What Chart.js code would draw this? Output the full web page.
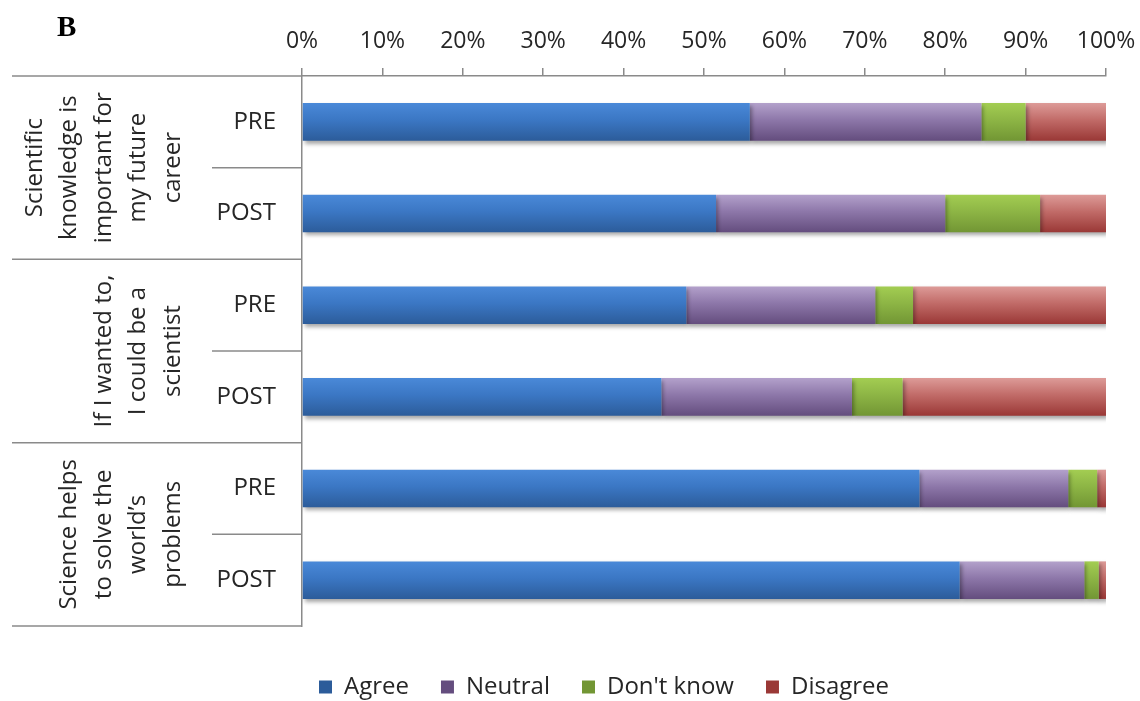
<!DOCTYPE html>
<html>
<head>
<meta charset="utf-8">
<script src="https://cdn.jsdelivr.net/npm/chart.js@4/dist/chart.umd.min.js"></script>
<style>
    body { margin: 0; background: #fff; }
    #wrap { width: 1140px; height: 701px; }
</style>
</head>
<body>
<div id="wrap"><canvas id="chart"></canvas></div>
<script>
// rows, top to bottom
const rowLabels = ["PRE", "POST", "PRE", "POST", "PRE", "POST"];
// each statement covers two rows
const groupLabels = [
    ["Scientific", "knowledge is", "important for", "my future", "career"],
    ["If I wanted to,", "I could be a", "scientist"],
    ["Science helps", "to solve the", "world\u2019s", "problems"]
];
const groupRows = [[0, 1], [2, 3], [4, 5]];

// percent of answers
const agree     = [55.7, 51.5, 47.8, 44.7, 76.8, 81.8];
const neutral   = [28.8, 28.5, 23.5, 23.7, 18.5, 15.5];
const dontKnow  = [5.5, 11.8, 4.7, 6.3, 3.6, 1.8];
const disagree  = [10.0, 8.2, 24.0, 25.3, 1.1, 0.9];

const xTicks = [0, 10, 20, 30, 40, 50, 60, 70, 80, 90, 100];

const lineColor = "#8a8a8a";
const textColor = "#262626";
const fontFamily = "'Open Sans', 'Noto Sans', sans-serif";
const barPct = 0.41;
const padLeft = 102;

// top, middle, bottom of the excel style gradient
const shades = {
    agree:    ["#4a89d8", "#3b77c4", "#2c5c9a"],
    neutral:  ["#b3a1cb", "#8d77a9", "#644d7e"],
    dontKnow: ["#a3cd52", "#8db545", "#729634"],
    disagree: ["#dd9b98", "#c16b68", "#9a3836"]
};

function gradientFill(key) {
    return (ctx) => {
        const c = shades[key];
        const chart = ctx.chart;
        const y = chart.scales.y;
        if (!chart.chartArea || !y || ctx.dataIndex === undefined) return c[1];
        const mid = y.getPixelForValue(ctx.dataIndex);
        const half = (y.height / rowLabels.length) * barPct / 2;
        const g = chart.ctx.createLinearGradient(0, mid - half, 0, mid + half);
        g.addColorStop(0, c[0]);
        g.addColorStop(0.45, c[1]);
        g.addColorStop(1, c[2]);
        return g;
    };
}

// table lines, statement labels and the panel letter
const tablePlugin = {
    id: 'table',
    beforeDatasetsDraw(chart) {
        const ctx = chart.ctx;
        ctx.save();
        ctx.shadowColor = "rgba(0,0,0,0.35)";
        ctx.shadowBlur = 4;
        ctx.shadowOffsetX = 2;
        ctx.shadowOffsetY = 3;
    },
    afterDatasetsDraw(chart) {
        chart.ctx.restore();
    },
    afterDraw(chart) {
        const ctx = chart.ctx;
        const area = chart.chartArea;
        const y = chart.scales.y;
        const step = y.height / rowLabels.length;
        const leftEdge = 12;
        const innerEdge = 212;

        ctx.save();
        ctx.strokeStyle = lineColor;
        ctx.lineWidth = 1.5;
        ctx.beginPath();
        ctx.moveTo(leftEdge, area.top);
        ctx.lineTo(area.left, area.top);
        ctx.moveTo(leftEdge, area.bottom);
        ctx.lineTo(area.left, area.bottom);
        groupRows.forEach((rows, gi) => {
            for (let k = 1; k < rows.length; k++) {
                const yy = y.getPixelForValue(rows[k]) - step / 2;
                ctx.moveTo(innerEdge, yy);
                ctx.lineTo(area.left, yy);
            }
            if (gi > 0) {
                const yy = y.getPixelForValue(rows[0]) - step / 2;
                ctx.moveTo(leftEdge, yy);
                ctx.lineTo(area.left, yy);
            }
        });
        ctx.stroke();

        ctx.fillStyle = textColor;
        ctx.font = "24px " + fontFamily;
        ctx.textAlign = "center";
        ctx.textBaseline = "middle";
        const lh = 34.5;
        const lastX = 173;
        groupLabels.forEach((lines, gi) => {
            const rows = groupRows[gi];
            const cy = (y.getPixelForValue(rows[0]) + y.getPixelForValue(rows[rows.length - 1])) / 2;
            ctx.save();
            ctx.translate(lastX, cy);
            ctx.rotate(-Math.PI / 2);
            lines.forEach((line, i) => {
                ctx.fillText(line, 0, (i - (lines.length - 1)) * lh);
            });
            ctx.restore();
        });

        ctx.fillStyle = "#000";
        ctx.font = "bold 29px 'Liberation Serif', 'DejaVu Serif', serif";
        ctx.textAlign = "left";
        ctx.textBaseline = "alphabetic";
        ctx.fillText("B", 57, 36);
        ctx.restore();
    }
};

// keep the legend from eating the space it needs below the plot
const legendHeight = {
    id: 'legendHeight',
    beforeInit(chart) {
        const fit = chart.legend.fit;
        chart.legend.fit = function () {
            fit.call(this);
            this.height = 75;
        };
    }
};

const ctx = document.getElementById('chart').getContext('2d');
const myChart = new Chart(ctx, {
    type: 'bar',
    data: {
        labels: rowLabels,
        datasets: [
            { label: "Agree", data: agree, backgroundColor: gradientFill('agree') },
            { label: "Neutral", data: neutral, backgroundColor: gradientFill('neutral') },
            { label: "Don't know", data: dontKnow, backgroundColor: gradientFill('dontKnow') },
            { label: "Disagree", data: disagree, backgroundColor: gradientFill('disagree') }
        ]
    },
    options: {
        indexAxis: 'y',
        responsive: true,
        maintainAspectRatio: false,
        animation: false,
        datasets: {
            bar: { barPercentage: barPct, categoryPercentage: 1, borderWidth: 0 }
        },
        layout: {
            padding: { left: padLeft, right: 34, top: 0, bottom: 0 }
        },
        scales: {
            x: {
                position: 'top',
                stacked: true,
                min: 0,
                max: 100,
                afterBuildTicks(scale) {
                    scale.ticks = xTicks.map(v => ({ value: v }));
                },
                afterFit(scale) {
                    scale.height = 76;
                    scale.paddingLeft = 0;
                    scale.paddingRight = 0;
                },
                grid: {
                    drawOnChartArea: false,
                    drawTicks: true,
                    tickLength: 8,
                    color: lineColor,
                    lineWidth: 1.5
                },
                border: { color: lineColor, width: 1.5 },
                ticks: {
                    padding: 13,
                    color: textColor,
                    font: { family: fontFamily, size: 23 },
                    maxRotation: 0,
                    callback: v => v + '%'
                }
            },
            y: {
                stacked: true,
                afterFit(scale) { scale.width = 302 - padLeft; },
                grid: { display: false },
                border: { color: lineColor, width: 1.5 },
                ticks: {
                    padding: 18,
                    color: textColor,
                    font: { family: fontFamily, size: 24 }
                }
            }
        },
        plugins: {
            tooltip: { enabled: false },
            legend: {
                position: 'bottom',
                title: {
                    display: true,
                    text: ' ',
                    padding: 0,
                    font: { size: 10, lineHeight: 1.7 }
                },
                labels: {
                    boxWidth: 13,
                    boxHeight: 13,
                    padding: 32,
                    color: textColor,
                    font: { family: fontFamily, size: 24 }
                }
            }
        }
    },
    plugins: [tablePlugin, legendHeight]
});
</script>
</body>
</html>
